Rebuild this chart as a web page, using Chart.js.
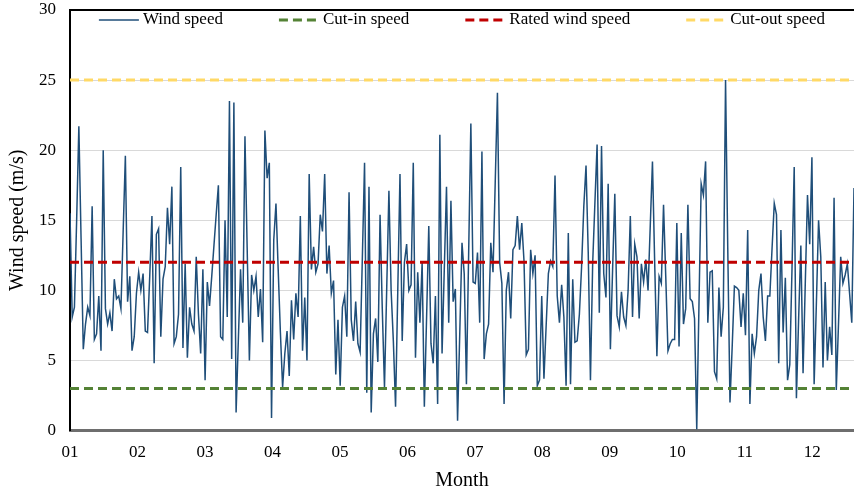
<!DOCTYPE html>
<html>
<head>
<meta charset="utf-8">
<script src="https://cdn.jsdelivr.net/npm/chart.js@4.4.1/dist/chart.umd.min.js"></script>
<style>
  html, body { margin: 0; padding: 0; background: #fff; }
  #wrap { width: 854px; height: 492px; }
</style>
</head>
<body>
<div id="wrap"><canvas id="windChart"></canvas></div>
<script>
// Daily wind speed (m/s)
const windSpeed = [
  15.5, 8.1, 8.8, 15.0, 21.7, 13.7, 5.8, 7.6, 8.8, 8.2, 16.0, 6.5, 6.9, 9.6, 5.7, 20.0, 8.7, 7.6, 8.4, 7.1,
  10.8, 9.4, 9.6, 8.7, 14.2, 19.6, 9.2, 11.0, 5.7, 6.7, 9.8, 11.3, 10.0, 11.2, 7.1, 7.0, 11.0, 15.3, 4.8, 14.0,
  14.4, 6.7, 10.8, 11.7, 15.9, 13.3, 17.4, 6.2, 6.7, 8.3, 18.8, 5.9, 11.9, 5.2, 8.8, 7.6, 7.1, 12.4, 8.3, 5.5,
  11.5, 3.6, 10.6, 8.9, 11.0, 13.2, 15.4, 17.5, 6.7, 6.5, 15.0, 8.1, 23.5, 5.1, 23.4, 1.3, 6.4, 11.5, 7.7, 21.0,
  13.0, 5.0, 11.1, 10.0, 11.0, 8.1, 10.1, 6.3, 21.4, 18.0, 19.1, 0.9, 13.6, 16.2, 11.5, 7.0, 3.1, 5.5, 7.1, 3.9,
  9.3, 6.5, 9.8, 8.1, 15.3, 5.7, 9.5, 5.0, 18.3, 11.5, 13.1, 11.3, 11.9, 15.4, 14.2, 18.3, 11.2, 13.2, 9.8, 10.7,
  4.0, 7.9, 3.2, 8.8, 9.6, 6.7, 17.0, 7.9, 6.4, 9.2, 6.2, 5.6, 12.3, 19.1, 2.7, 17.4, 1.3, 6.9, 8.0, 4.9,
  15.4, 8.7, 3.1, 10.1, 17.1, 10.0, 6.4, 1.7, 10.0, 18.3, 6.4, 12.0, 13.3, 10.0, 10.4, 19.1, 5.2, 11.3, 7.7, 12.0,
  1.7, 8.0, 14.6, 6.2, 4.8, 9.6, 1.9, 21.1, 5.5, 11.5, 17.4, 7.7, 16.4, 9.2, 10.1, 0.7, 7.0, 13.4, 11.2, 3.3,
  12.6, 21.9, 10.6, 10.5, 12.7, 7.7, 19.9, 5.1, 6.9, 7.6, 13.4, 11.3, 17.7, 24.1, 12.0, 10.5, 1.9, 10.0, 11.3, 8.0,
  12.9, 13.2, 15.3, 12.9, 14.8, 12.1, 5.4, 5.8, 12.9, 11.2, 12.5, 3.2, 3.6, 9.6, 3.7, 7.5, 11.2, 12.1, 11.7, 18.2,
  9.6, 7.7, 10.4, 8.1, 3.2, 14.1, 3.3, 10.8, 6.3, 6.4, 8.3, 11.7, 16.0, 18.9, 12.7, 3.6, 11.9, 16.2, 20.4, 8.4,
  20.3, 11.2, 9.5, 17.6, 5.8, 11.5, 16.9, 8.2, 7.4, 9.9, 8.1, 7.5, 10.0, 15.3, 8.1, 13.3, 12.4, 8.0, 11.9, 10.6,
  12.2, 10.0, 14.6, 19.2, 12.0, 5.3, 11.0, 10.5, 16.1, 11.0, 5.7, 6.2, 6.5, 6.5, 14.8, 6.0, 14.1, 7.6, 8.7, 16.1,
  9.4, 9.2, 8.0, 0.1, 9.0, 17.6, 16.8, 19.2, 7.7, 11.3, 11.4, 4.2, 3.7, 10.2, 6.7, 8.8, 25.0, 13.0, 2.0, 6.0,
  10.3, 10.2, 10.0, 7.4, 9.8, 6.8, 14.3, 1.9, 6.9, 5.5, 6.7, 10.0, 11.2, 8.1, 6.4, 9.6, 9.6, 13.0, 16.2, 15.4,
  4.8, 14.3, 7.0, 10.9, 3.6, 4.7, 11.5, 18.8, 2.3, 8.0, 13.2, 4.1, 10.5, 16.8, 13.3, 19.5, 3.3, 9.0, 15.0, 12.4,
  4.5, 10.6, 5.0, 7.4, 5.4, 16.6, 2.9, 7.6, 12.4, 10.5, 11.1, 11.9, 9.8, 7.7, 17.3
];

const cutInSpeed = 3;
const ratedSpeed = 12;
const cutOutSpeed = 25;

const monthLabels = ["01", "02", "03", "04", "05", "06", "07", "08", "09", "10", "11", "12"];
const daysPerMonth = 30.47;
const yTicks = [0, 5, 10, 15, 20, 25, 30];

const lastDay = windSpeed.length - 1;
const flat = (v) => [{ x: 0, y: v }, { x: lastDay, y: v }];

// legend drawn inside the plot, along the top
const insideLegend = {
  id: "insideLegend",
  afterDraw(chart) {
    const ctx = chart.ctx;
    const area = chart.chartArea;
    const sample = 40, textGap = 4, itemGap = 56;
    ctx.save();
    ctx.font = '17px "Liberation Serif"';
    const items = chart.data.datasets.map((ds) => ({
      ds: ds,
      w: sample + textGap + ctx.measureText(ds.label).width,
    }));
    const total = items.reduce((s, it) => s + it.w, 0) + itemGap * (items.length - 1);
    let x = (area.left + area.right) / 2 - total / 2;
    const y = area.top + 10;
    items.forEach(({ ds, w }) => {
      ctx.strokeStyle = ds.borderColor;
      ctx.lineWidth = ds.borderWidth;
      ctx.setLineDash(ds.borderDash || []);
      ctx.beginPath();
      ctx.moveTo(x, y);
      ctx.lineTo(x + sample, y);
      ctx.stroke();
      ctx.setLineDash([]);
      ctx.fillStyle = "#000";
      ctx.textBaseline = "middle";
      ctx.fillText(ds.label, x + sample + textGap, y);
      x += w + itemGap;
    });
    ctx.restore();
  },
};

Chart.defaults.font.family = '"Liberation Serif", "Times New Roman", serif';
Chart.defaults.color = "#000";

const ctx = document.getElementById("windChart").getContext("2d");
new Chart(ctx, {
  type: "line",
  data: {
    datasets: [
      {
        label: "Wind speed",
        data: windSpeed.map((v, i) => ({ x: i, y: v })),
        borderColor: "#1F4E79",
        borderWidth: 1.5,
        pointRadius: 0,
        tension: 0,
        order: 2,
      },
      {
        label: "Cut-in speed",
        data: flat(cutInSpeed),
        borderColor: "#548235",
        borderWidth: 3,
        borderDash: [9, 5],
        pointRadius: 0,
        order: 1,
      },
      {
        label: "Rated wind speed",
        data: flat(ratedSpeed),
        borderColor: "#C00000",
        borderWidth: 3,
        borderDash: [9, 5],
        pointRadius: 0,
        order: 1,
      },
      {
        label: "Cut-out speed",
        data: flat(cutOutSpeed),
        borderColor: "#FFD966",
        borderWidth: 3,
        borderDash: [9, 5],
        pointRadius: 0,
        order: 1,
      },
    ],
  },
  options: {
    responsive: true,
    maintainAspectRatio: false,
    animation: false,
    layout: { padding: { left: 6, top: 0, right: 0, bottom: 1 } },
    plugins: {
      legend: { display: false },
      tooltip: { enabled: false },
    },
    scales: {
      x: {
        type: "linear",
        min: 0,
        max: lastDay,
        afterBuildTicks: (scale) => {
          scale.ticks = monthLabels.map((_, i) => ({ value: i * daysPerMonth }));
        },
        ticks: {
          autoSkip: false,
          maxRotation: 0,
          padding: 12,
          font: { size: 17 },
          callback: (value, index) => monthLabels[index],
        },
        grid: { display: false, drawTicks: false },
        border: { color: "#6E6E6E", width: 3 },
        title: {
          display: true,
          text: "Month",
          font: { size: 20, lineHeight: 1.0 },
          padding: { top: -4, bottom: 0 },
        },
      },
      y: {
        min: 0,
        max: 30,
        afterBuildTicks: (scale) => {
          scale.ticks = yTicks.map((v) => ({ value: v }));
        },
        afterFit: (scale) => {
          // plot starts right under the top edge, like the original
          scale.paddingTop = 10;
          scale.paddingBottom = 0;
        },
        ticks: { padding: 14, font: { size: 17 } },
        grid: {
          drawTicks: false,
          color: (c) => (c.tick.value === 30 ? "#000" : c.tick.value === 0 ? "rgba(0,0,0,0)" : "#D9D9D9"),
          lineWidth: (c) => (c.tick.value === 30 ? 2 : 1),
        },
        border: { color: "#000", width: 2 },
        title: {
          display: true,
          text: "Wind speed (m/s)",
          font: { size: 20 },
          padding: { top: 0, bottom: -5 },
        },
      },
    },
  },
  plugins: [insideLegend],
});
</script>
</body>
</html>
